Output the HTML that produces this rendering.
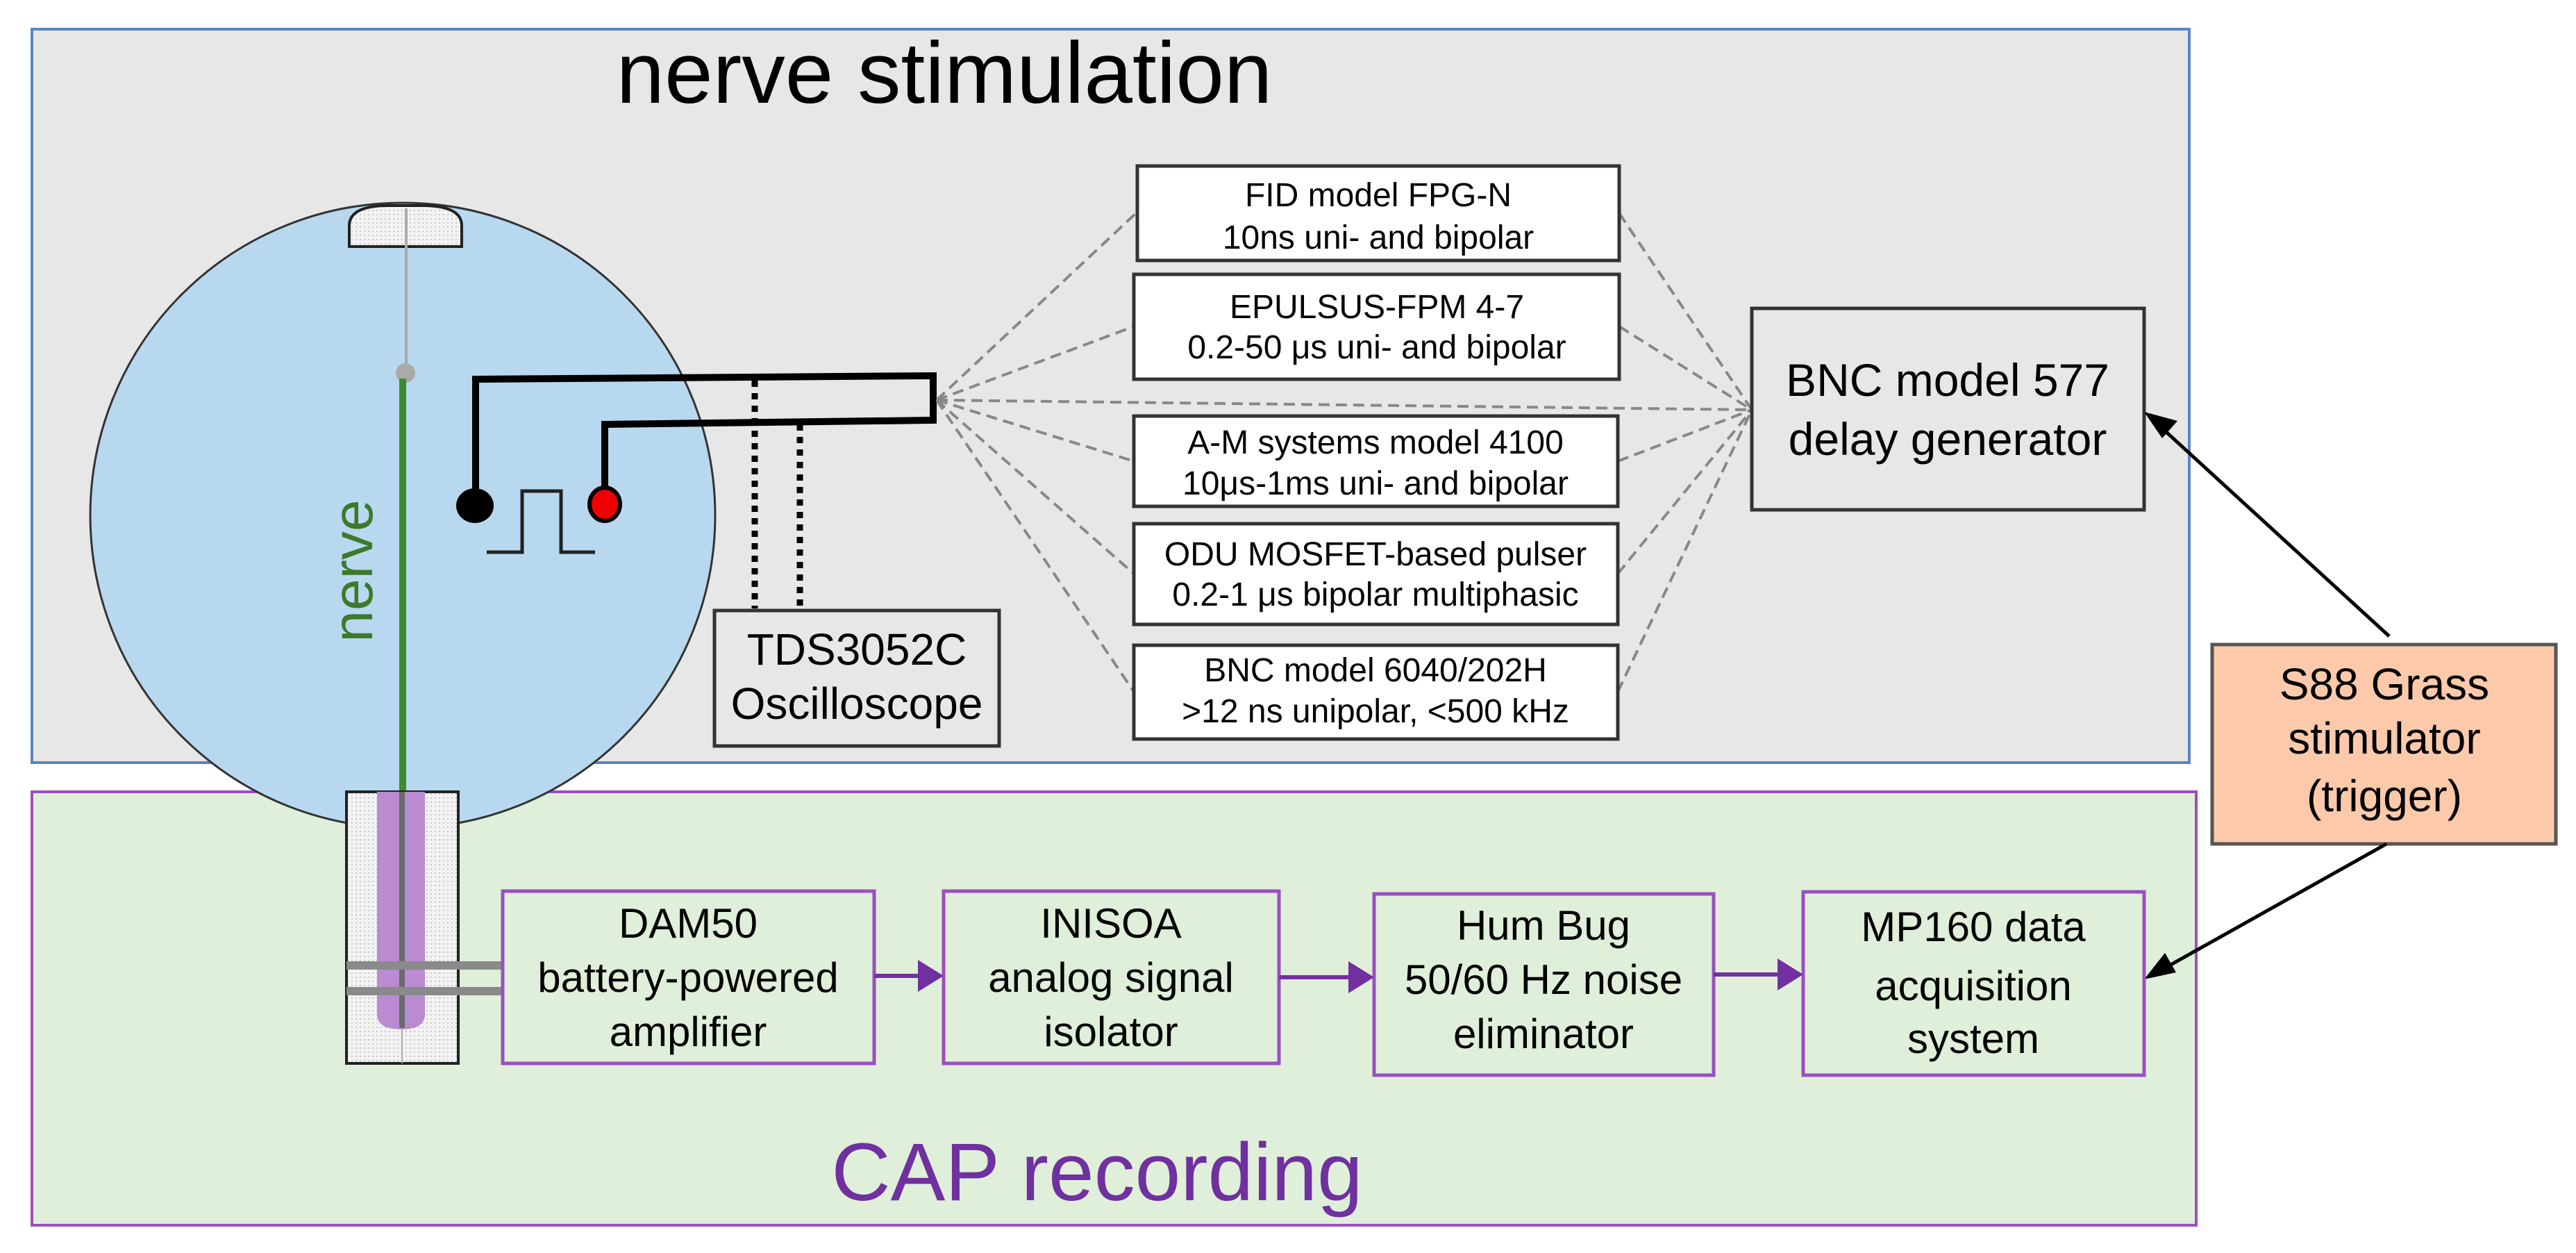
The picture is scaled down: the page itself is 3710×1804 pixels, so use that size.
<!DOCTYPE html>
<html><head><meta charset="utf-8"><style>
html,body{margin:0;padding:0;background:#fff;}
svg{display:block;}
text{font-family:"Liberation Sans",sans-serif;}
</style></head><body>
<svg width="3710" height="1804" viewBox="0 0 3710 1804" xmlns="http://www.w3.org/2000/svg">
<defs>
<pattern id="dots" width="6" height="6" patternUnits="userSpaceOnUse">
<rect width="6" height="6" fill="#f2f2f2"/><circle cx="3" cy="3" r="1" fill="#bbb"/>
</pattern>
</defs>
<!-- panels -->
<rect x="46" y="42" width="3107" height="1056" fill="#e7e7e7" stroke="#5b84c4" stroke-width="4"/>
<rect x="46" y="1140" width="3117" height="624" fill="#dfefd9" stroke="#9b4fc0" stroke-width="4"/>
<text x="1360" y="148" font-size="125" text-anchor="middle" fill="#000">nerve stimulation</text>
<text x="1580" y="1728" font-size="118" text-anchor="middle" fill="#7030a0">CAP recording</text>

<!-- circle -->
<circle cx="580" cy="742" r="450" fill="#b8d8ef" stroke="#333" stroke-width="3"/>
<path d="M503,355 L503,325 Q503,296 560,296 L608,296 Q665,296 665,325 L665,355 Z" fill="url(#dots)" stroke="#222" stroke-width="4"/>
<line x1="585" y1="300" x2="585" y2="537" stroke="#aaa" stroke-width="4"/>
<circle cx="584" cy="537" r="14" fill="#aaa"/>
<line x1="580" y1="545" x2="580" y2="1140" stroke="#3d8b2e" stroke-width="10"/>
<text x="0" y="0" font-size="82" fill="#3b7a2a" text-anchor="middle" transform="translate(536,822) rotate(-90)">nerve</text>

<!-- wires -->
<polyline points="685,712 685,546 1344,541 1344,605 871,611 871,712" fill="none" stroke="#000" stroke-width="10" stroke-linejoin="miter"/>
<ellipse cx="684" cy="728" rx="27" ry="25" fill="#000"/>
<ellipse cx="871" cy="726" rx="22" ry="24" fill="#e00" stroke="#000" stroke-width="6"/>
<polyline points="701,795 752,795 752,707 808,707 808,795 857,795" fill="none" stroke="#222" stroke-width="5"/>
<line x1="1087" y1="548" x2="1087" y2="876" stroke="#000" stroke-width="9" stroke-dasharray="9,9"/>
<line x1="1152" y1="611" x2="1152" y2="876" stroke="#000" stroke-width="9" stroke-dasharray="9,9"/>

<!-- TDS -->
<rect x="1029" y="879" width="410" height="195" fill="#e7e7e7" stroke="#333" stroke-width="5"/>
<text x="1234" y="957" font-size="64" text-anchor="middle">TDS3052C</text>
<text x="1234" y="1035" font-size="64" text-anchor="middle">Oscilloscope</text>

<!-- fan lines -->
<g stroke="#888" stroke-width="4" stroke-dasharray="16,9" fill="none">
<line x1="1349" y1="576" x2="1636" y2="307"/>
<line x1="1349" y1="576" x2="1633" y2="470"/>
<line x1="1349" y1="576" x2="2523" y2="590"/>
<line x1="1349" y1="576" x2="1633" y2="664"/>
<line x1="1349" y1="576" x2="1633" y2="826"/>
<line x1="1349" y1="576" x2="1633" y2="996"/>
<line x1="2332" y1="307" x2="2523" y2="590"/>
<line x1="2332" y1="470" x2="2523" y2="590"/>
<line x1="2330" y1="664" x2="2523" y2="590"/>
<line x1="2330" y1="826" x2="2523" y2="590"/>
<line x1="2330" y1="996" x2="2523" y2="590"/>
</g>

<!-- pulser boxes -->
<g fill="#fff" stroke="#333" stroke-width="5">
<rect x="1638" y="239" width="694" height="136"/>
<rect x="1633" y="395" width="699" height="151"/>
<rect x="1633" y="599" width="697" height="130"/>
<rect x="1633" y="754" width="697" height="145"/>
<rect x="1633" y="929" width="697" height="135"/>
</g>
<g font-size="48" text-anchor="middle" fill="#000">
<text x="1985" y="297">FID model FPG-N</text>
<text x="1985" y="358">10ns uni- and bipolar</text>
<text x="1983" y="458">EPULSUS-FPM 4-7</text>
<text x="1983" y="516">0.2-50 μs uni- and bipolar</text>
<text x="1981" y="653">A-M systems model 4100</text>
<text x="1981" y="712">10μs-1ms uni- and bipolar</text>
<text x="1981" y="814">ODU MOSFET-based pulser</text>
<text x="1981" y="872">0.2-1 μs bipolar multiphasic</text>
<text x="1981" y="981">BNC model 6040/202H</text>
<text x="1981" y="1040">&gt;12 ns unipolar, &lt;500 kHz</text>
</g>

<!-- BNC 577 -->
<rect x="2523" y="444" width="565" height="290" fill="#e7e7e7" stroke="#333" stroke-width="5"/>
<text x="2805" y="570" font-size="66" text-anchor="middle">BNC model 577</text>
<text x="2805" y="655" font-size="66" text-anchor="middle">delay generator</text>

<!-- S88 -->
<rect x="3186" y="928" width="495" height="287" fill="#fccaab" stroke="#555" stroke-width="5"/>
<text x="3434" y="1007" font-size="64" text-anchor="middle">S88 Grass</text>
<text x="3434" y="1085" font-size="64" text-anchor="middle">stimulator</text>
<text x="3434" y="1168" font-size="64" text-anchor="middle">(trigger)</text>

<line x1="3441" y1="916" x2="3110" y2="613" stroke="#000" stroke-width="5"/>
<line x1="3437" y1="1215" x2="3112" y2="1397" stroke="#000" stroke-width="5"/>
<path d="M3088,593 L3136,606 L3114,631 Z" fill="#000"/>
<path d="M3088,1410 L3118,1372 L3134,1400 Z" fill="#000"/>

<!-- electrode block -->
<rect x="499" y="1140" width="161" height="391" fill="url(#dots)" stroke="#222" stroke-width="4"/>
<path d="M543,1140 L612,1140 L612,1460 Q612,1482 578,1482 Q543,1482 543,1460 Z" fill="#b98bd0"/>
<line x1="579" y1="1140" x2="579" y2="1480" stroke="#6a6a6a" stroke-width="8"/>
<line x1="579" y1="1480" x2="579" y2="1531" stroke="#aaa" stroke-width="2"/>
<line x1="499" y1="1390" x2="726" y2="1390" stroke="#8a8a8a" stroke-width="12"/>
<line x1="499" y1="1427" x2="726" y2="1427" stroke="#8a8a8a" stroke-width="12"/>

<!-- CAP boxes -->
<g fill="none" stroke="#9b4fc0" stroke-width="5">
<rect x="724" y="1283" width="535" height="248"/>
<rect x="1359" y="1283" width="483" height="248"/>
<rect x="1979" y="1287" width="489" height="261"/>
<rect x="2597" y="1284" width="491" height="264"/>
</g>
<g fill="#7030a0">
<rect x="1259" y="1402" width="66" height="6"/><path d="M1322,1382 L1359,1405 L1322,1428 Z"/>
<rect x="1842" y="1404" width="100" height="6"/><path d="M1942,1384 L1979,1407 L1942,1430 Z"/>
<rect x="2468" y="1400" width="95" height="6"/><path d="M2560,1380 L2597,1403 L2560,1426 Z"/>
</g>
<g font-size="60" text-anchor="middle" fill="#000">
<text x="991" y="1350">DAM50</text>
<text x="991" y="1428">battery-powered</text>
<text x="991" y="1506">amplifier</text>
<text x="1600" y="1350">INISOA</text>
<text x="1600" y="1428">analog signal</text>
<text x="1600" y="1506">isolator</text>
<text x="2223" y="1353">Hum Bug</text>
<text x="2223" y="1431">50/60 Hz noise</text>
<text x="2223" y="1509">eliminator</text>
<text x="2842" y="1355">MP160 data</text>
<text x="2842" y="1440">acquisition</text>
<text x="2842" y="1516">system</text>
</g>
</svg>
</body></html>
